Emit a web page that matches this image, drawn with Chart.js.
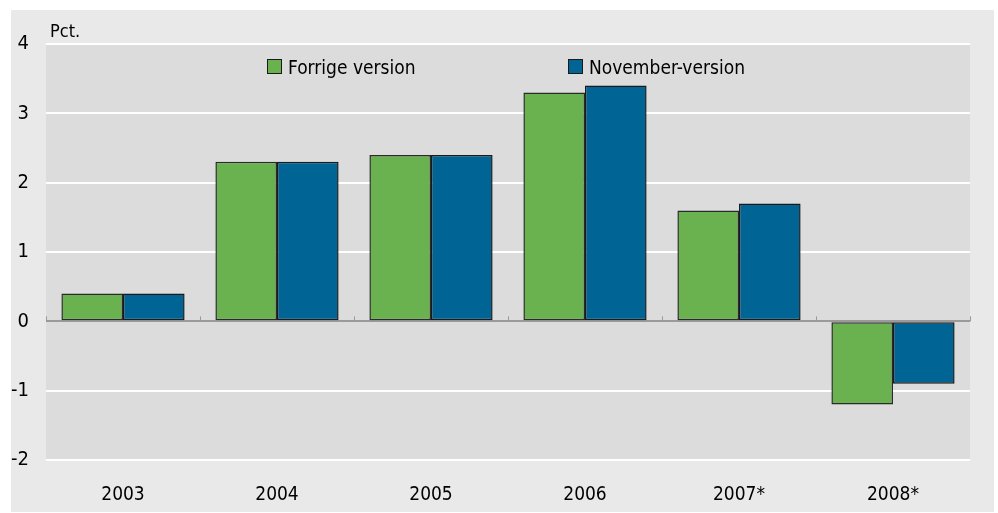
<!DOCTYPE html>
<html>
<head>
<meta charset="utf-8">
<script src="https://cdn.jsdelivr.net/npm/chart.js@4.4.1/dist/chart.umd.min.js"></script>
<style>
  html, body { margin: 0; padding: 0; background: #fff; }
  #wrap { width: 998px; height: 513px; }
</style>
</head>
<body>
<div id="wrap"><canvas id="chart" width="998" height="513"></canvas></div>
<script>
const years = ["2003", "2004", "2005", "2006", "2007*", "2008*"];
const forrige = [0.4, 2.3, 2.4, 3.3, 1.6, -1.2];
const november = [0.4, 2.3, 2.4, 3.4, 1.7, -0.9];
const seriesNames = ["Forrige version", "November-version"];
const yTicks = [-2, -1, 0, 1, 2, 3, 4];

const FONT = '"Liberation Sans Narrow", "DejaVu Sans Condensed", "Open Sans", sans-serif';
Chart.defaults.font.family = FONT;
Chart.defaults.color = "#000";

// panel backgrounds, the Pct. label, the legend and the small zero-line ticks
const decor = {
  id: "decor",
  beforeDraw(chart) {
    const { ctx, chartArea: a } = chart;
    ctx.save();
    ctx.fillStyle = "#fff";
    ctx.fillRect(0, 0, chart.width, chart.height);
    ctx.fillStyle = "#e9e9e9";
    ctx.fillRect(11, 10, 983, 502);
    ctx.fillStyle = "#dcdcdc";
    ctx.fillRect(a.left, a.top, a.right - a.left, a.bottom - a.top);
    ctx.restore();
  },
  beforeDatasetsDraw(chart) {
    const { ctx, scales: { x, y } } = chart;
    const y0 = y.getPixelForValue(0);
    ctx.save();
    ctx.strokeStyle = "#9a9a9a";
    ctx.lineWidth = 1;
    for (let i = 0; i <= years.length; i++) {
      const px = Math.round(x.getPixelForValue(i - 0.5)) + 0.5;
      ctx.beginPath();
      ctx.moveTo(px, y0);
      ctx.lineTo(px, y0 - 5);
      ctx.stroke();
    }
    ctx.restore();
  },
  afterDraw(chart) {
    const { ctx, chartArea: a } = chart;
    ctx.save();
    ctx.font = "18px " + FONT;
    ctx.fillStyle = "#000";
    ctx.textBaseline = "alphabetic";
    ctx.fillText("Pct.", a.left + 4, 37);

    const offsets = [221, 522];
    chart.data.datasets.forEach((ds, i) => {
      const bx = a.left + offsets[i];
      const by = 59;
      ctx.fillStyle = ds.backgroundColor;
      ctx.fillRect(bx, by, 15, 15);
      ctx.strokeStyle = "#1a1a1a";
      ctx.lineWidth = 1;
      ctx.strokeRect(bx + 0.5, by + 0.5, 14, 14);
      ctx.fillStyle = "#000";
      ctx.font = "19px " + FONT;
      ctx.textBaseline = "alphabetic";
      ctx.fillText(ds.label, bx + 21, 74);
    });
    ctx.restore();
  }
};

new Chart(document.getElementById("chart"), {
  type: "bar",
  data: {
    labels: years,
    datasets: [
      {
        label: seriesNames[0],
        data: forrige,
        backgroundColor: "#6ab150",
        borderColor: "#2a2a2a",
        borderWidth: 1.5,
        borderSkipped: false
      },
      {
        label: seriesNames[1],
        data: november,
        backgroundColor: "#006595",
        borderColor: "#1a1a1a",
        borderWidth: 1.5,
        borderSkipped: false
      }
    ]
  },
  options: {
    responsive: false,
    animation: false,
    layout: { padding: { left: 0, top: 44, right: 28, bottom: 0 } },
    datasets: { bar: { categoryPercentage: 0.8, barPercentage: 1.0 } },
    plugins: {
      legend: { display: false },
      tooltip: { enabled: false }
    },
    scales: {
      x: {
        grid: { display: false, drawTicks: false },
        border: { display: false },
        ticks: { font: { size: 19 }, padding: 24, color: "#000" },
        afterFit(scale) { scale.height = 53; }
      },
      y: {
        min: -2,
        max: 4,
        afterBuildTicks(scale) { scale.ticks = yTicks.map(v => ({ value: v })); },
        grid: {
          drawTicks: false,
          lineWidth: 2,
          color: (c) => (c.tick && c.tick.value === 0 ? "#9a9a9a" : "#ffffff")
        },
        border: { display: false },
        ticks: { font: { size: 20 }, padding: 17, color: "#000" },
        afterFit(scale) { scale.width = 46; }
      }
    }
  },
  plugins: [decor]
});
</script>
</body>
</html>
